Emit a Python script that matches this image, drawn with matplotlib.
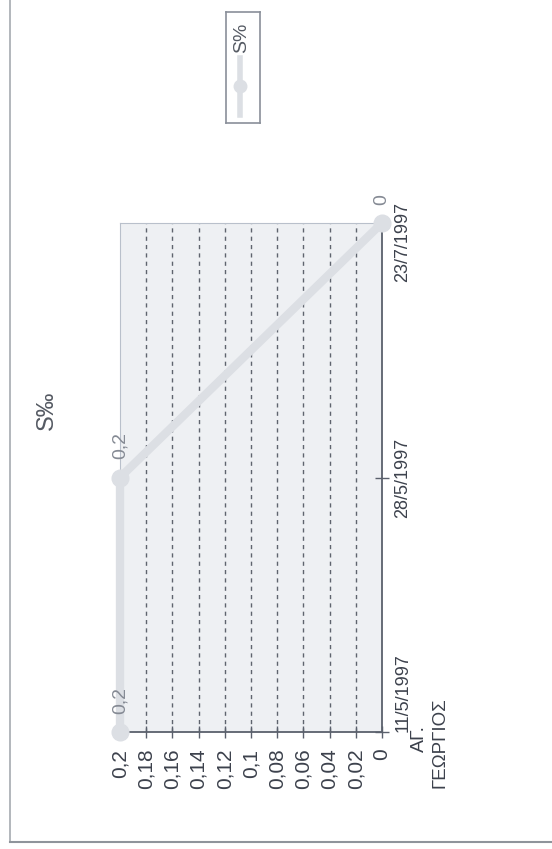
import matplotlib
matplotlib.use('Agg')
import matplotlib.pyplot as plt
from matplotlib.lines import Line2D

plt.rcParams['font.family'] = ['Liberation Sans', 'DejaVu Sans']

# Dados (gráfico original girado 90°)
categorias = ['11/5/1997', '28/5/1997', '23/7/1997']
valores = [0.2, 0.2, 0.0]
rotulos_dados = ['0,2', '0,2', '0']
ticks_valor = [0, 0.02, 0.04, 0.06, 0.08, 0.1, 0.12, 0.14, 0.16, 0.18, 0.2]
rotulos_valor = ['0', '0,02', '0,04', '0,06', '0,08', '0,1', '0,12', '0,14', '0,16', '0,18', '0,2']
titulo = 'S‰'
legenda = 'S%'

cor_linha = '#dcdfe4'
cor_texto = '#3c414c'
cor_eixo = '#5a606c'

fig = plt.figure(figsize=(5.52, 8.49), dpi=100)
ax = fig.add_axes([120 / 552, 1 - 732 / 849, 262 / 552, 509 / 849])
ax.set_facecolor('#eef0f3')

posicoes = list(range(len(categorias)))
ax.plot(valores, posicoes, color=cor_linha, lw=6, marker='o', ms=12,
        mfc=cor_linha, mec=cor_linha, solid_capstyle='round', zorder=3, clip_on=False)

for v, p, r in zip(valores, posicoes, rotulos_dados):
    ax.annotate(r, (v, p), xytext=(0, 13), textcoords='offset points',
                rotation=90, ha='center', va='bottom', fontsize=14, color='#858a94')

ax.set_xlim(0.2, 0)
ax.set_ylim(0, len(categorias) - 1)

ax.set_xticks(ticks_valor)
ax.set_xticklabels(rotulos_valor, rotation=90, fontsize=15, color=cor_texto)
ax.tick_params(axis='x', direction='inout', length=8, width=1, color=cor_eixo, pad=8)

ax.set_yticks(posicoes)
ax.set_yticklabels([])
ax.yaxis.tick_right()
ax.tick_params(axis='y', direction='inout', length=10, width=1, color=cor_eixo)

# rótulos das categorias (as extremidades deslocadas para dentro como no Excel)
alinh = ['bottom', 'center', 'center']
desloc = [0, 0, -14]
for p, c, va, d in zip(posicoes, categorias, alinh, desloc):
    ax.annotate(c, (1.0, p), xycoords=('axes fraction', 'data'),
                xytext=(9, d), textcoords='offset points',
                rotation=90, ha='left', va=va, fontsize=13, color=cor_texto)

for t in ticks_valor[1:-1]:
    ax.axvline(t, color='#5f646e', lw=1, ls=(0, (3, 3)), zorder=1)

ax.spines['top'].set_color('#b9c0cb')
ax.spines['left'].set_color('#b9c0cb')
ax.spines['bottom'].set_color(cor_eixo)
ax.spines['right'].set_color(cor_eixo)
ax.spines['bottom'].set_linewidth(1.3)
ax.spines['right'].set_linewidth(1.3)

# título
fig.text(47 / 552, 1 - 410 / 849, titulo, rotation=90, ha='center', va='center',
         fontsize=17, color='#555a63')

# texto do autor
fig.text(419 / 552, 1 - 752 / 849, 'ΑΓ.', rotation=90, ha='center', va='bottom',
         fontsize=14, color=cor_texto)
fig.text(440 / 552, 1 - 788 / 849, 'ΓΕΩΡΓΙΟΣ', rotation=90, ha='center', va='bottom',
         fontsize=13.5, color=cor_texto)

# legenda
lax = fig.add_axes([226 / 552, 1 - 123 / 849, 34 / 552, 111 / 849])
lax.set_xlim(0, 1)
lax.set_ylim(0, 1)
lax.set_xticks([])
lax.set_yticks([])
for s in lax.spines.values():
    s.set_color('#8a8f99')
    s.set_linewidth(1.2)
lax.add_line(Line2D([0.42, 0.42], [0.07, 0.59], color=cor_linha, lw=4))
lax.plot([0.42], [0.33], marker='o', ms=9, color=cor_linha)
lax.text(0.45, 0.77, legenda, rotation=90, ha='center', va='center',
         fontsize=14, color='#555a63')

# moldura da página
fig.add_artist(Line2D([10 / 552, 10 / 552], [1 - 842 / 849, 1], color='#a6aab0', lw=1.2))
fig.add_artist(Line2D([10 / 552, 1], [1 - 842 / 849, 1 - 842 / 849], color='#8f949b', lw=1.5))

fig.savefig('out.png', dpi=100)
